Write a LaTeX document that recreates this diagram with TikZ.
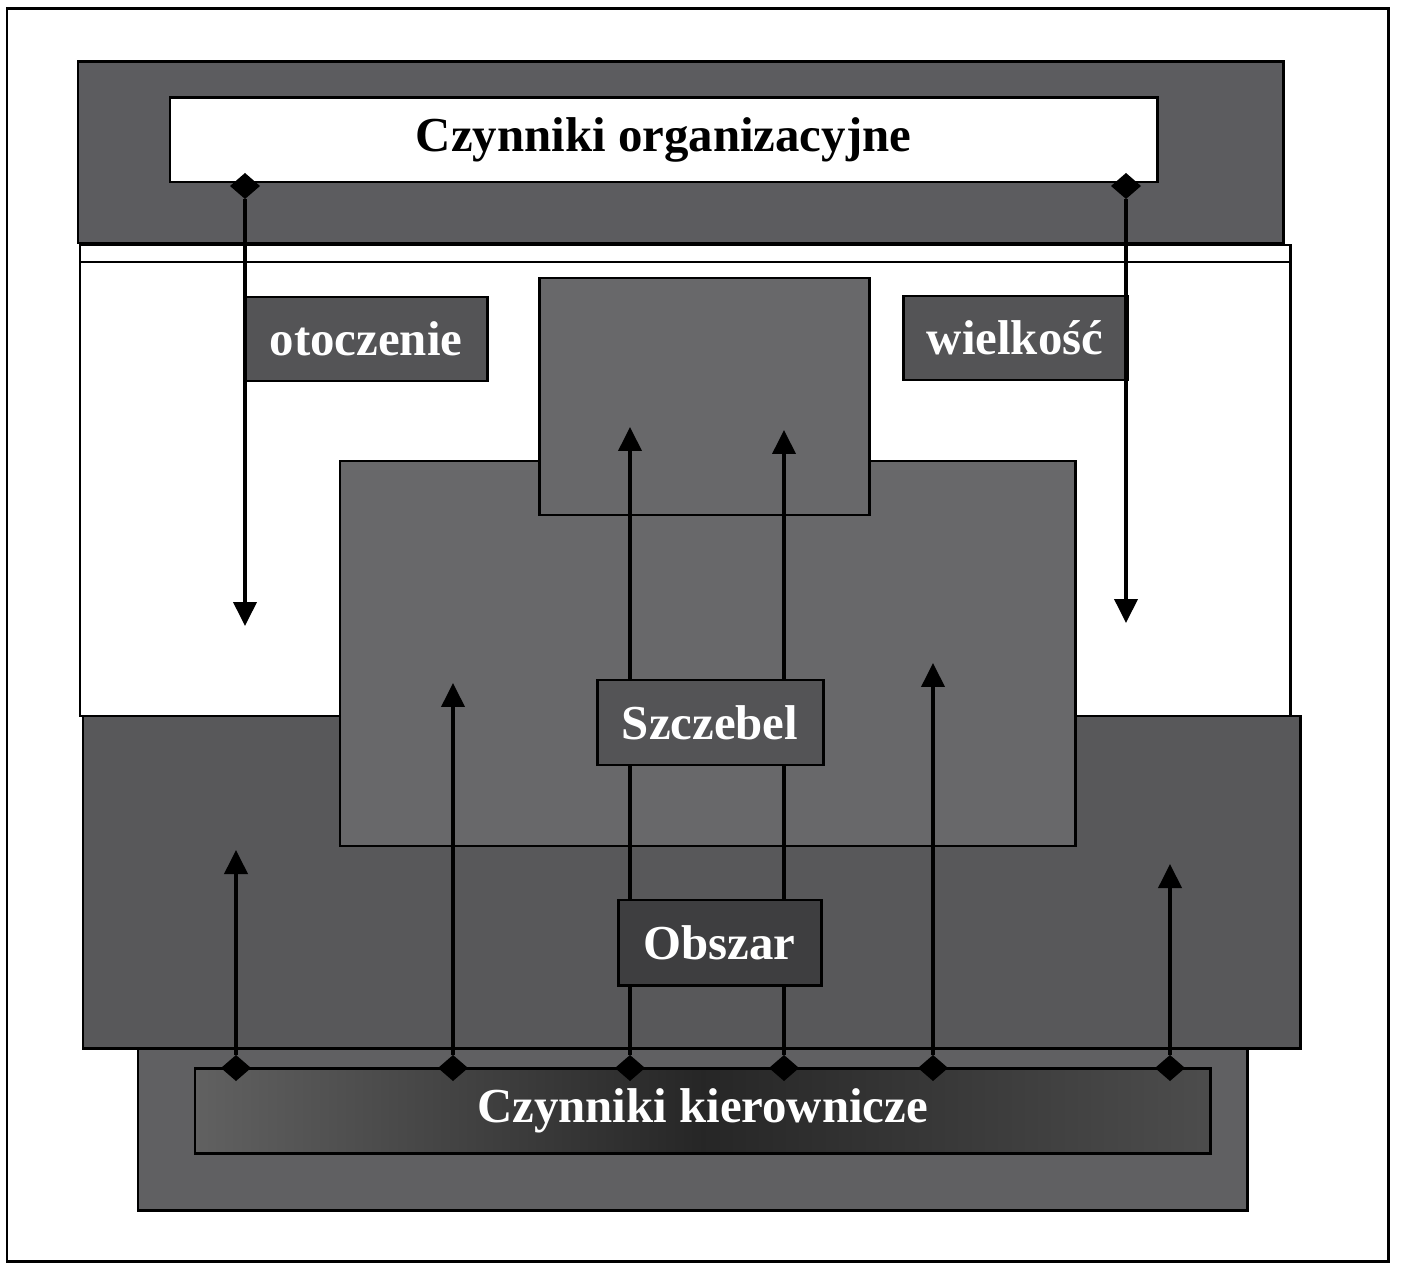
\documentclass[tikz,border=0pt]{standalone}
\usepackage{fontspec}
\setmainfont{Liberation Serif}
\usetikzlibrary{arrows.meta,shapes.geometric}

\definecolor{bandgray}{RGB}{92,92,95}
\definecolor{areagray}{RGB}{88,88,90}
\definecolor{midgray}{RGB}{104,104,106}
\definecolor{labelgray}{RGB}{84,84,86}
\definecolor{darklabel}{RGB}{62,62,64}
\definecolor{basegray}{RGB}{96,96,98}

% box given by its left, top, right and bottom edges
\newcommand\blok[7]{%
  \node[#6,minimum width={(#4-#2)*0.02cm},minimum height={(#5-#3)*0.02cm}]
    (#1) at ({(#2+#4)/2},{(#3+#5)/2}) {#7};}

\begin{document}
\begin{tikzpicture}[x=0.02cm,y=-0.02cm,
    edge/.style={draw=black,line width=1.7pt},
    anybox/.style={edge,rectangle,inner sep=0pt,outer sep=0pt},
    plainbox/.style={anybox,fill=white},
    bandbox/.style={anybox,fill=bandgray},
    areabox/.style={anybox,fill=areagray},
    basebox/.style={anybox,fill=basegray},
    midbox/.style={anybox,fill=midgray},
    whitebox/.style={anybox,fill=white,text=black,font=\fontsize{27.8}{30}\selectfont\bfseries},
    labelbox/.style={anybox,fill=labelgray,text=white,font=\fontsize{27.8}{30}\selectfont\bfseries},
    obsbox/.style={anybox,fill=darklabel,text=white,font=\fontsize{27.8}{30}\selectfont\bfseries},
    kierbox/.style={anybox,left color=black!62,right color=black!70,middle color=black!85,
                    text=white,font=\fontsize{27.8}{30}\selectfont\bfseries},
    knot/.style={diamond,fill=black,draw=none,inner sep=0pt,outer sep=0pt,
                 minimum width=0.6cm,minimum height=0.52cm},
    arr/.style={draw=black,line width=2.2pt,-{Triangle[width=0.46cm,length=0.48cm]}},
  ]
  \useasboundingbox (0,0) rectangle (1402,1266);

  % outer frame
  \draw[line width=1.7pt] (7,9) rectangle (1388,1261);

  % upper panel with its double rule
  \blok{panel}{80}{245}{1290}{716}{plainbox}{}
  \draw[edge] (80,262) -- (1290,262);

  % organisational factors band
  \blok{band}{78}{62}{1283}{243}{bandbox}{}
  \blok{org}{170}{98}{1157}{182}{whitebox}{Czynniki organizacyjne}

  % lower area and management base
  \blok{area}{83}{716}{1300}{1048}{areabox}{}
  \blok{base}{138}{1048}{1247}{1210}{basebox}{}
  \blok{kier}{195}{1068}{1210}{1153}{kierbox}{Czynniki kierownicze}

  % stepped middle blocks
  \blok{mid}{340}{461}{1075}{846}{midbox}{}
  \blok{top}{539}{278}{869}{515}{midbox}{}

  % side labels
  \blok{oto}{245}{297}{487}{381}{labelbox}{otoczenie}
  \blok{wie}{903}{296}{1127}{380}{labelbox}{wielkość}

  % junction knots
  \node[knot] (dA) at (245,186) {};
  \node[knot] (dB) at (1126,186) {};
  \node[knot] (d1) at (236,1068) {};
  \node[knot] (d2) at (453,1068) {};
  \node[knot] (d3) at (630,1068) {};
  \node[knot] (d4) at (784,1068) {};
  \node[knot] (d5) at (933,1068) {};
  \node[knot] (d6) at (1170,1068) {};

  % arrow ends
  \coordinate (tA) at (245,626);
  \coordinate (tB) at (1126,623);
  \coordinate (t1) at (236,850);
  \coordinate (t2) at (453,683);
  \coordinate (t3) at (630,427);
  \coordinate (t4) at (784,430);
  \coordinate (t5) at (933,663);
  \coordinate (t6) at (1170,864);

  \draw[arr] (dA) -- (tA);
  \draw[arr] (dB) -- (tB);
  \draw[arr] (d1) -- (t1);
  \draw[arr] (d2) -- (t2);
  \draw[arr] (d3) -- (t3);
  \draw[arr] (d4) -- (t4);
  \draw[arr] (d5) -- (t5);
  \draw[arr] (d6) -- (t6);

  % level and area labels
  \blok{szc}{597}{680}{823}{765}{labelbox}{Szczebel}
  \blok{obs}{618}{900}{821}{985}{obsbox}{Obszar}
\end{tikzpicture}
\end{document}
